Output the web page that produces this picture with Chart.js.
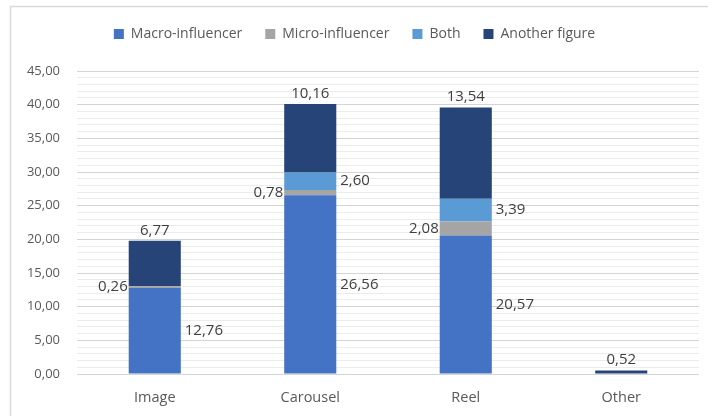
<!DOCTYPE html>
<html>
<head>
<meta charset="utf-8">
<script src="https://cdn.jsdelivr.net/npm/chart.js@4/dist/chart.umd.min.js"></script>
<style>
  html, body { margin: 0; padding: 0; background: #fff; }
  #wrap { width: 708px; height: 416px; position: relative; }
</style>
</head>
<body>
<div id="wrap"><canvas id="chart" width="708" height="416"></canvas></div>
<script>
// values
var categories = ["Image", "Carousel", "Reel", "Other"];
var macroInfluencer = [12.76, 26.56, 20.57, 0];
var microInfluencer = [0.26, 0.78, 2.08, 0];
var both = [0, 2.60, 3.39, 0];
var anotherFigure = [6.77, 10.16, 13.54, 0.52];
var seriesNames = ["Macro-influencer", "Micro-influencer", "Both", "Another figure"];
var seriesColors = ["#4472C4", "#A5A5A5", "#5B9BD5", "#264478"];
// where each series puts its value label
var labelSide = ["right", "left", "right", "top"];

var textColor = "#595959";
var fontFamily = "'Open Sans', 'Liberation Sans', sans-serif";

function fmt(v) {
  return v.toFixed(2).replace(".", ",");
}

// simple value labels, no datalabels plugin available
var valueLabels = {
  id: "valueLabels",
  afterDatasetsDraw: function(chart) {
    var ctx = chart.ctx;
    ctx.save();
    ctx.font = "15px " + fontFamily;
    ctx.fillStyle = "#404040";
    chart.data.datasets.forEach(function(ds, di) {
      var meta = chart.getDatasetMeta(di);
      meta.data.forEach(function(bar, i) {
        var v = ds.data[i];
        if (!v) return;
        var p = bar.getProps(["x", "y", "base", "width"], true);
        var midY = (p.y + p.base) / 2;
        var side = labelSide[di];
        if (side === "right") {
          ctx.textAlign = "left";
          ctx.textBaseline = "middle";
          ctx.fillText(fmt(v), p.x + p.width / 2 + 4, midY);
        } else if (side === "left") {
          ctx.textAlign = "right";
          ctx.textBaseline = "middle";
          ctx.fillText(fmt(v), p.x - p.width / 2 - 1, midY);
        } else {
          ctx.textAlign = "center";
          ctx.textBaseline = "bottom";
          ctx.fillText(fmt(v), p.x, p.y - 3);
        }
      });
    });
    ctx.restore();
  }
};

// light frame around the chart like the spreadsheet export
var frame = {
  id: "frame",
  beforeDraw: function(chart) {
    var ctx = chart.ctx;
    ctx.save();
    ctx.strokeStyle = "#d9d9d9";
    ctx.lineWidth = 1.5;
    ctx.strokeRect(10.5, 6.5, chart.width + 20, chart.height + 20);
    ctx.restore();
  }
};

// legend takes more room below it, so the plot starts lower
var legendGap = {
  id: "legendGap",
  beforeLayout: function(chart) {
    var lg = chart.legend;
    if (!lg || lg._gapPatched) return;
    var fit = lg.fit;
    lg.fit = function() {
      fit.call(this);
      this.height = 67;
    };
    lg._gapPatched = true;
  }
};

var datasets = [macroInfluencer, microInfluencer, both, anotherFigure].map(function(values, k) {
  return {
    label: seriesNames[k],
    data: values,
    backgroundColor: seriesColors[k],
    borderWidth: 0,
    barPercentage: 0.335,
    categoryPercentage: 1
  };
});

new Chart(document.getElementById("chart"), {
  type: "bar",
  data: { labels: categories, datasets: datasets },
  options: {
    responsive: false,
    animation: false,
    layout: { padding: { left: 10, right: 9, top: 4, bottom: 0 } },
    plugins: {
      legend: {
        position: "top",
        labels: {
          color: textColor,
          font: { size: 14, family: fontFamily },
          boxWidth: 10,
          boxHeight: 10,
          padding: 23
        }
      },
      tooltip: { enabled: false }
    },
    scales: {
      x: {
        stacked: true,
        afterFit: function(scale) { scale.height = 42; },
        grid: { display: false, drawTicks: false },
        border: { display: false },
        ticks: { color: textColor, font: { size: 14.5, family: fontFamily }, padding: 15 }
      },
      y: {
        stacked: true,
        min: 0,
        max: 45,
        afterFit: function(scale) { scale.width = 67; },
        border: { display: false },
        grid: {
          drawTicks: false,
          lineWidth: 1,
          color: function(c) {
            return c.tick && c.tick.value % 5 === 0 ? "#d4d4d4" : "#ececec";
          }
        },
        ticks: {
          stepSize: 1,
          autoSkip: false,
          maxTicksLimit: 100,
          padding: 17,
          color: textColor,
          font: { size: 13, family: fontFamily },
          callback: function(v) { return v % 5 === 0 ? fmt(v) : ""; }
        }
      }
    }
  },
  plugins: [frame, legendGap, valueLabels]
});
</script>
</body>
</html>
